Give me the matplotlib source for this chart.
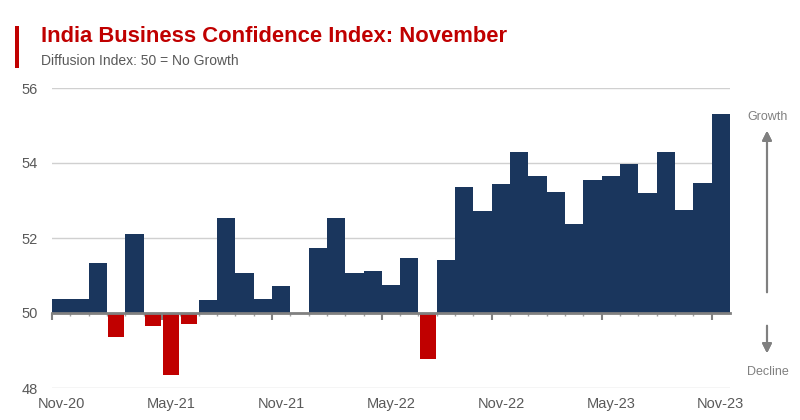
import numpy as np
import matplotlib
matplotlib.use("Agg")
import matplotlib.pyplot as plt
from matplotlib.patches import Rectangle

# Monthly index, Nov-20 .. Nov-23
months = ["Nov-20", "Dec-20", "Jan-21", "Feb-21", "Mar-21", "Apr-21", "May-21",
          "Jun-21", "Jul-21", "Aug-21", "Sep-21", "Oct-21", "Nov-21", "Dec-21",
          "Jan-22", "Feb-22", "Mar-22", "Apr-22", "May-22", "Jun-22", "Jul-22",
          "Aug-22", "Sep-22", "Oct-22", "Nov-22", "Dec-22", "Jan-23", "Feb-23",
          "Mar-23", "Apr-23", "May-23", "Jun-23", "Jul-23", "Aug-23", "Sep-23",
          "Oct-23", "Nov-23"]
index_values = [50.37, 50.37, 51.33, 49.37, 52.10, 49.66, 48.36,
                49.70, 50.35, 52.54, 51.08, 50.37, 50.72, 50.00,
                51.73, 52.54, 51.08, 51.12, 50.75, 51.47, 48.78,
                51.41, 53.36, 52.72, 53.44, 54.29, 53.65, 53.23,
                52.37, 53.55, 53.65, 53.97, 53.20, 54.29, 52.75,
                53.47, 55.31]
labelled_months = ["Nov-20", "May-21", "Nov-21", "May-22", "Nov-22", "May-23", "Nov-23"]
y_ticks = [48, 50, 52, 54, 56]

NAVY = "#1a365d"
RED = "#c00000"
GREY_TXT = "#595959"

plt.rcParams["font.family"] = ["Liberation Sans", "DejaVu Sans"]

fig = plt.figure(figsize=(8, 4.2), dpi=100)
ax = fig.add_axes([52 / 800, 1 - 388 / 420, 678 / 800, 300 / 420])

x = np.arange(len(months))
vals = np.array(index_values)
colors = [NAVY if v >= 50 else RED for v in vals]
widths = [1.0 if v >= 50 else 0.88 for v in vals]
ax.bar(x, vals - 50, bottom=50, width=widths, color=colors,
       linewidth=0, antialiased=False, zorder=2)

ax.set_xlim(-0.5, len(months) - 0.5)
ax.set_ylim(48, 56)

# grid lines
for yv in y_ticks:
    if yv != 50:
        ax.axhline(yv, color="#d0d0d0", lw=1.0, zorder=0)

# baseline at 50 with month ticks
for s in ["top", "right", "left"]:
    ax.spines[s].set_visible(False)
ax.spines["bottom"].set_position(("data", 50))
ax.spines["bottom"].set_color("#808080")
ax.spines["bottom"].set_linewidth(2)
ax.spines["bottom"].set_zorder(3)

major_pos = [months.index(m) - 0.5 for m in labelled_months]
ax.set_xticks(major_pos)
ax.set_xticklabels([""] * len(major_pos))
ax.set_xticks(x - 0.5, minor=True)
ax.tick_params(axis="x", which="major", length=5, width=1.5, color="#808080")
ax.tick_params(axis="x", which="minor", length=2, width=1, color="#a0a0a0")

for m in labelled_months:
    ax.text(months.index(m), -0.03, m, transform=ax.get_xaxis_transform(),
            ha="center", va="top", fontsize=10.5, color=GREY_TXT)

ax.set_yticks(y_ticks)
ax.set_yticklabels([str(v) for v in y_ticks])
ax.tick_params(axis="y", length=0, pad=10, labelsize=10.5, labelcolor=GREY_TXT)

# title block
fig.add_artist(Rectangle((15 / 800, 1 - 68 / 420), 4 / 800, 42 / 420,
                         transform=fig.transFigure, color=RED, lw=0))
fig.text(41 / 800, 1 - 37 / 420, "India Business Confidence Index: November",
         fontsize=15.8, fontweight="bold", color=RED, va="center", ha="left")
fig.text(41 / 800, 1 - 61 / 420, "Diffusion Index: 50 = No Growth",
         fontsize=10, color=GREY_TXT, va="center", ha="left")

# growth / decline arrows
arrow_kw = dict(arrowstyle="-|>", color="#808080", lw=1.5, mutation_scale=14)
fig.add_artist(plt.annotate("", xy=(767 / 800, 1 - 128 / 420), xytext=(767 / 800, 1 - 295 / 420),
                            xycoords=fig.transFigure, textcoords=fig.transFigure,
                            arrowprops=arrow_kw))
fig.add_artist(plt.annotate("", xy=(767 / 800, 1 - 356 / 420), xytext=(767 / 800, 1 - 323 / 420),
                            xycoords=fig.transFigure, textcoords=fig.transFigure,
                            arrowprops=arrow_kw))
fig.text(768 / 800, 1 - 117 / 420, "Growth", fontsize=9, color="#808080",
         ha="center", va="center")
fig.text(768 / 800, 1 - 372 / 420, "Decline", fontsize=9, color="#808080",
         ha="center", va="center")

fig.savefig("out.png", dpi=100)
